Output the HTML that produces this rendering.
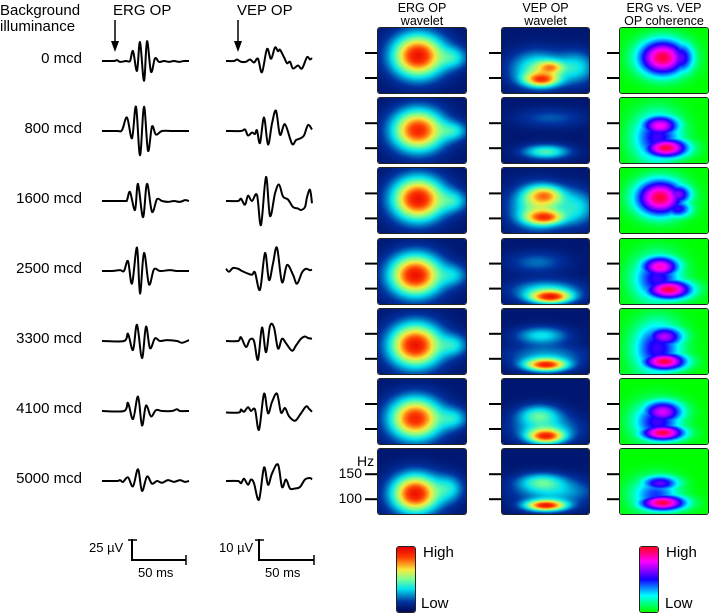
<!DOCTYPE html>
<html><head><meta charset="utf-8"><style>
body{margin:0;background:#fff;width:709px;height:614px;overflow:hidden;position:relative;font-family:"Liberation Sans",Arial,sans-serif;}
.t{position:absolute;white-space:nowrap;color:#000;}
canvas{position:absolute;border-radius:2px;box-shadow:0 0 0 1px #222;}
</style></head><body>
<svg id="svg" width="709" height="614" style="position:absolute;left:0;top:0"></svg>
<div class="t" style="left:0;top:3px;font-size:15px;line-height:16px">Background<br>illuminance</div>
<div class="t" style="left:113px;top:2px;font-size:15px">ERG OP</div>
<div class="t" style="left:237px;top:2px;font-size:15px">VEP OP</div>
<div class="t" style="left:378px;top:2px;width:88px;text-align:center;font-size:12.5px;line-height:13px">ERG OP<br>wavelet</div>
<div class="t" style="left:502px;top:2px;width:87px;text-align:center;font-size:12.5px;line-height:13px">VEP OP<br>wavelet</div>
<div class="t" style="left:614px;top:2px;width:100px;text-align:center;font-size:12.5px;line-height:13px">ERG vs. VEP<br>OP coherence</div>
<div class="t" style="left:357px;top:453px;font-size:14px">Hz</div>
<div class="t" style="left:334px;top:465px;width:28px;text-align:right;font-size:14px">150</div>
<div class="t" style="left:334px;top:490px;width:28px;text-align:right;font-size:14px">100</div>
<div class="t" style="left:89px;top:540px;font-size:13px">25 µV</div>
<div class="t" style="left:138px;top:565px;font-size:13px">50 ms</div>
<div class="t" style="left:219px;top:540px;font-size:13px">10 µV</div>
<div class="t" style="left:265px;top:565px;font-size:13px">50 ms</div>
<canvas id="cb1" width="18" height="65" style="left:397px;top:547px"></canvas>
<canvas id="cb2" width="18" height="65" style="left:640px;top:547px"></canvas>
<div class="t" style="left:423px;top:544px;font-size:15px">High</div>
<div class="t" style="left:421px;top:595px;font-size:15px">Low</div>
<div class="t" style="left:666px;top:544px;font-size:15px">High</div>
<div class="t" style="left:665px;top:595px;font-size:15px">Low</div>
<script>
const illuminance = ["0 mcd","800 mcd","1600 mcd","2500 mcd","3300 mcd","4100 mcd","5000 mcd"];
// traces: [time, amplitude] extrema
const ergTraces = [
[[0,0],[12,0],[15,1],[18,-1],[24,0],[28,0],[31,11],[35,-11],[38,21],[42,-22],[45,22],[49,-12],[53,3],[57,-1],[62,0],[67,-1],[72,0],[77,-1],[82,0],[87,0]],
[[0,0],[15,0],[20,1],[25,15],[30,-8],[34,27],[38,-27],[42,27],[46,-22],[50,5],[54,-4],[60,0],[70,0],[80,0],[87,0]],
[[0,0],[22,0],[25,1],[28,10],[33,-10],[36,19],[41,-18],[45,19],[50,-12],[55,2],[60,0],[66,-1],[72,0],[78,-1],[83,1],[87,0]],
[[0,0],[10,0],[18,1],[22,0],[26,11],[30,-14],[35,26],[38,-25],[42,20],[47,-15],[52,2],[58,0],[68,1],[75,0],[87,0]],
[[0,0],[22,0],[26,8],[31,-10],[35,18],[40,-19],[44,16],[48,-8],[53,3],[58,0],[65,1],[75,0],[80,-2],[87,1]],
[[0,0],[22,0],[26,9],[31,-9],[36,16],[40,-16],[44,6],[49,-6],[54,1],[60,0],[70,0],[75,2],[78,0],[87,0]],
[[0,0],[15,0],[18,1],[21,-1],[26,4],[31,-6],[36,13],[40,-11],[45,5],[50,-3],[55,0],[60,-2],[66,1],[72,-1],[78,1],[83,-1],[87,0]]
];
const vepTraces = [
[[0,0],[8,0],[11,2],[15,-1],[20,-1],[24,2],[28,-2],[32,3],[36,-15],[41,16],[45,3],[49,18],[52,13],[54,15],[58,5],[61,-3],[64,-1],[67,-10],[72,-6],[76,-10],[81,5],[84,2],[86,4]],
[[0,0],[15,0],[19,2],[22,-6],[26,-2],[29,-4],[31,1],[34,-16],[38,18],[42,-18],[46,10],[50,27],[54,-5],[59,9],[66,-17],[70,-12],[74,-10],[78,-6],[82,8],[86,2]],
[[0,0],[12,0],[15,3],[19,-5],[22,7],[26,0],[31,8],[35,-32],[40,32],[44,-20],[49,10],[53,22],[57,6],[62,2],[67,-8],[72,-10],[75,-12],[79,-8],[81,5],[84,15],[86,-3]],
[[0,3],[3,-1],[7,4],[12,3],[16,0],[21,-3],[26,-5],[29,-2],[34,-25],[39,24],[43,-12],[47,10],[51,31],[56,-15],[61,8],[67,-5],[71,-17],[76,-2],[80,3],[84,1],[86,2]],
[[0,0],[12,0],[15,5],[20,-8],[24,2],[28,0],[32,-25],[36,18],[40,-15],[44,20],[48,18],[52,-10],[56,3],[60,-3],[66,-13],[70,-6],[75,3],[79,6],[82,4],[86,3]],
[[0,-2],[13,-2],[15,2],[18,-1],[22,5],[25,0],[29,2],[33,-25],[38,23],[42,-3],[46,12],[51,23],[55,-2],[59,4],[63,-7],[69,-13],[74,-5],[80,6],[83,3],[86,-1]],
[[0,0],[12,0],[15,-3],[18,3],[22,-5],[25,2],[28,-3],[33,-25],[38,18],[42,-5],[46,10],[52,22],[56,-8],[60,2],[64,-10],[69,-10],[74,-8],[79,2],[84,4],[86,2]]
];
// heatmap blobs: [time frac, freq frac (0 top), width, height, power]
const ergWavelet = [
[[0.45,0.42,0.24,0.27,0.95],[0.85,0.45,0.14,0.14,0.3]],
[[0.45,0.49,0.24,0.26,0.9],[0.85,0.5,0.14,0.12,0.3]],
[[0.45,0.47,0.24,0.27,0.95],[0.85,0.5,0.14,0.14,0.3]],
[[0.42,0.55,0.24,0.26,0.95],[0.85,0.55,0.14,0.14,0.25]],
[[0.42,0.55,0.24,0.27,0.95],[0.85,0.55,0.14,0.14,0.3]],
[[0.42,0.6,0.24,0.26,0.9],[0.85,0.6,0.14,0.14,0.3]],
[[0.42,0.68,0.22,0.24,0.95],[0.8,0.6,0.14,0.17,0.3]]
];
const vepWavelet = [
[[0.45,0.78,0.16,0.09,0.85],[0.55,0.6,0.12,0.08,0.65],[0.4,0.62,0.25,0.22,0.42],[0.85,0.6,0.18,0.2,0.32]],
[[0.5,0.82,0.22,0.09,0.42],[0.55,0.3,0.32,0.12,0.15]],
[[0.48,0.42,0.17,0.12,0.7],[0.48,0.75,0.17,0.09,0.85],[0.4,0.6,0.25,0.27,0.45],[0.85,0.6,0.18,0.22,0.32]],
[[0.55,0.88,0.19,0.08,0.95],[0.5,0.78,0.32,0.13,0.32],[0.4,0.35,0.27,0.13,0.18]],
[[0.5,0.85,0.2,0.08,0.92],[0.45,0.4,0.24,0.11,0.33],[0.5,0.7,0.37,0.13,0.22]],
[[0.5,0.87,0.17,0.09,0.92],[0.42,0.55,0.2,0.13,0.4],[0.5,0.75,0.32,0.16,0.27]],
[[0.5,0.86,0.19,0.07,0.95],[0.45,0.5,0.22,0.11,0.38],[0.6,0.65,0.37,0.16,0.27]]
];
const coherence = [
[[0.48,0.45,0.2,0.2,0.98],[0.68,0.45,0.12,0.18,0.6]],
[[0.45,0.42,0.16,0.12,0.8],[0.52,0.76,0.18,0.11,0.98],[0.42,0.6,0.2,0.28,0.55]],
[[0.45,0.45,0.2,0.2,0.98],[0.65,0.4,0.12,0.12,0.65],[0.65,0.62,0.12,0.1,0.55]],
[[0.45,0.42,0.16,0.12,0.85],[0.55,0.77,0.19,0.11,0.98],[0.42,0.6,0.2,0.26,0.55]],
[[0.5,0.42,0.16,0.12,0.7],[0.5,0.8,0.18,0.1,0.98],[0.42,0.6,0.2,0.3,0.55]],
[[0.48,0.5,0.17,0.13,0.75],[0.48,0.82,0.18,0.09,0.98],[0.42,0.65,0.2,0.22,0.55]],
[[0.45,0.52,0.16,0.09,0.6],[0.48,0.82,0.19,0.09,0.98],[0.4,0.7,0.2,0.2,0.45]]
];

const NS="http://www.w3.org/2000/svg";
const svg=document.getElementById('svg');
const rowTop=i=>28+70.2*i, rowBase=i=>61+70*i;
const ergX=t=>102+t, ergY=(i,v)=>rowBase(i)-v*0.9;
const vepX=t=>226+t, vepY=(i,v)=>rowBase(i)-v*0.75;
function pathD(pts,fx,fy){
  const P=pts.map(p=>[fx(p[0]),fy(p[1])]);
  let d=`M${P[0][0]},${P[0][1]}`;
  for(let k=0;k<P.length-1;k++){
    const p0=P[Math.max(0,k-1)],p1=P[k],p2=P[k+1],p3=P[Math.min(P.length-1,k+2)];
    const c1=[p1[0]+(p2[0]-p0[0])/6,p1[1]+(p2[1]-p0[1])/6];
    const c2=[p2[0]-(p3[0]-p1[0])/6,p2[1]-(p3[1]-p1[1])/6];
    d+=` C${c1[0]},${c1[1]} ${c2[0]},${c2[1]} ${p2[0]},${p2[1]}`;
  }
  return d;
}
function line(x1,y1,x2,y2,w,name){
  const l=document.createElementNS(NS,'line');
  l.setAttribute('x1',x1);l.setAttribute('y1',y1);l.setAttribute('x2',x2);l.setAttribute('y2',y2);
  l.setAttribute('stroke','#000');l.setAttribute('stroke-width',w);
  
  
  svg.appendChild(l);
}
illuminance.forEach((lab,i)=>{
  const d=document.createElement('div');
  d.className='t';d.style.cssText=`left:0;width:82px;text-align:right;top:${rowBase(i)-11}px;font-size:15px`;
  d.textContent=lab;
  
  
  document.body.appendChild(d);
  [[ergTraces[i],ergX,v=>ergY(i,v),'erg-trace'],[vepTraces[i],vepX,v=>vepY(i,v),'vep-trace']].forEach(([pts,fx,fy,nm])=>{
    const p=document.createElementNS(NS,'path');
    p.setAttribute('d',pathD(pts,fx,fy));
    p.setAttribute('fill','none');p.setAttribute('stroke','#000');p.setAttribute('stroke-width','2');
    p.setAttribute('stroke-linejoin','round');
    
    
    svg.appendChild(p);
  });
});
[[115,'erg-stimulus-arrow'],[238,'vep-stimulus-arrow']].forEach(([x,n])=>{
  line(x,20,x,44,1.5,n);
  const a=document.createElementNS(NS,'polygon');
  a.setAttribute('points',`${x-4},41 ${x+4},41 ${x},52`);
  
  
  svg.appendChild(a);
});
line(132,539,132,561,2,'erg-scale-vertical');line(128,540,137,540,1.5,'erg-scale-cap');
line(132,560,186,560,2,'erg-scale-horizontal');line(186,555,186,565,1.5,'erg-scale-end');
line(259,539,259,561,2,'vep-scale-vertical');line(255,540,264,540,1.5,'vep-scale-cap');
line(259,560,314,560,2,'vep-scale-horizontal');line(314,555,314,565,1.5,'vep-scale-end');

function lerpMap(stops,v){
  v=Math.max(0,Math.min(1,v));
  for(let k=0;k<stops.length-1;k++){
    const a=stops[k],b=stops[k+1];
    if(v<=b[0]){const f=(v-a[0])/(b[0]-a[0]);return [0,1,2].map(j=>Math.round(a[1][j]+(b[1][j]-a[1][j])*f));}
  }
  return stops[stops.length-1][1];
}
const jet=[[0,[0,10,90]],[0.15,[0,50,160]],[0.35,[0,225,240]],[0.5,[120,255,150]],[0.65,[250,235,60]],[0.85,[255,60,0]],[1,[230,0,0]]];
const coh=[[0,[0,255,0]],[0.25,[0,255,255]],[0.5,[20,0,255]],[0.78,[255,0,255]],[1,[255,0,40]]];
function drawHeat(cv,blobs,cmap,base,spread,useMax){
  const ctx=cv.getContext('2d'),W=cv.width,H=cv.height,img=ctx.createImageData(W,H);
  for(let y=0;y<H;y++)for(let x=0;x<W;x++){
    let rest=1-base,mx=base;const fx=x/W,fy=y/H;
    blobs.forEach(b=>{const dx=(fx-b[0])/b[2],dy=(fy-b[1])/b[3];const g=b[4]*Math.exp(-(dx*dx+dy*dy)/spread);rest*=1-g;mx=Math.max(mx,g);});
    const v=useMax?mx:1-rest;
    const c=lerpMap(cmap,v),o=(y*W+x)*4;
    img.data[o]=c[0];img.data[o+1]=c[1];img.data[o+2]=c[2];img.data[o+3]=255;
  }
  ctx.putImageData(img,0,0);
}
const cols=[[378,88,ergWavelet,jet,0.05,1.45,false,'erg-wavelet-heatmap'],[502,87,vepWavelet,jet,0.05,1.45,false,'vep-wavelet-heatmap'],[620,88,coherence,coh,0,1.75,true,'coherence-heatmap']];
for(let i=0;i<7;i++){
  cols.forEach(([x,w,data,cmap,base,spread,useMax,nm])=>{
    const cv=document.createElement('canvas');
    cv.width=w;cv.height=65;cv.style.left=x+'px';cv.style.top=rowTop(i)+'px';
    
    
    document.body.appendChild(cv);
    drawHeat(cv,data[i],cmap,base,spread,useMax);
    line(x-13,rowTop(i)+25,x,rowTop(i)+25,2,'freq-tick-150');
    line(x-13,rowTop(i)+50,x,rowTop(i)+50,2,'freq-tick-100');
  });
}
function bar(id,cmap){
  const cv=document.getElementById(id),ctx=cv.getContext('2d');
  for(let y=0;y<65;y++){const c=lerpMap(cmap,1-y/64);ctx.fillStyle=`rgb(${c})`;ctx.fillRect(0,y,18,1);}
}
bar('cb1',jet);bar('cb2',coh);
</script>
</body></html>
